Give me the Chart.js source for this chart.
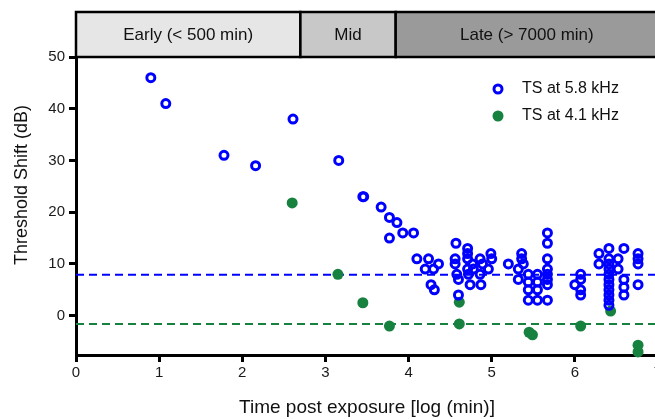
<!DOCTYPE html>
<html>
<head>
<meta charset="utf-8">
<script src="https://cdn.jsdelivr.net/npm/chart.js@4.4.1/dist/chart.umd.min.js"></script>
<style>
  html, body { margin: 0; padding: 0; overflow: hidden; background: #fff; }
  #wrap { width: 672px; height: 419px; }
</style>
</head>
<body>
<div id="wrap"><canvas id="chart" width="672" height="419"></canvas></div>
<script>
// TS at 5.8 kHz (open circles)
const highX = [0.90, 1.08, 1.78, 2.16, 2.61, 3.16, 3.45, 3.46, 3.67, 3.77, 3.86, 3.77, 3.93, 4.06,
  4.10, 4.24, 4.20, 4.30, 4.36, 4.27, 4.31,
  4.57, 4.56, 4.56, 4.58, 4.60, 4.60, 4.71, 4.71, 4.71, 4.71, 4.72, 4.74, 4.77, 4.78,
  4.86, 4.89, 4.86, 4.87, 4.99, 5.00, 4.96, 5.20,
  5.36, 5.36, 5.38, 5.32, 5.32, 5.44, 5.44, 5.44, 5.44, 5.55, 5.55, 5.55, 5.55,
  5.67, 5.67, 5.67, 5.67, 5.67, 5.67, 5.67, 5.67,
  6.07, 6.07, 6.00, 6.07, 6.07,
  6.29, 6.29, 6.41, 6.41, 6.41, 6.41, 6.41, 6.41, 6.41, 6.41, 6.41, 6.41, 6.41,
  6.52, 6.52, 6.59, 6.59, 6.59, 6.59, 6.76, 6.76, 6.76, 6.76];
const highY = [46, 41, 31, 29, 38, 30, 23, 23, 21, 19, 18, 15, 16, 16,
  11, 11, 9, 9, 10, 6, 5,
  14, 11, 10, 8, 7, 4, 13, 12, 11, 9, 8, 6, 10, 9,
  11, 10, 8, 6, 12, 11, 9, 10,
  12, 11, 10, 9, 7, 8, 6.5, 5, 3, 8, 6.5, 5, 3,
  16, 14, 11, 9, 8, 7, 6, 3,
  8, 7, 6, 5, 4,
  12, 10, 13, 11, 10, 9, 8, 7, 6, 5, 4, 3, 2,
  11, 9, 13, 7, 5.5, 4, 12, 11, 10, 6];

// TS at 4.1 kHz (filled circles)
const lowX = [2.60, 3.15, 3.45, 3.77, 4.61, 4.61, 5.45, 5.49, 6.07, 6.43, 6.76, 6.76];
const lowY = [21.8, 8.0, 2.5, -2.0, 2.6, -1.6, -3.2, -3.7, -2.0, 0.9, -5.7, -7.0];

// mean reference lines
const highMean = 7.9;
const lowMean = -1.6;

const xTicks = [0, 1, 2, 3, 4, 5, 6, 7];
const yTicks = [0, 10, 20, 30, 40, 50];

const phases = ["Early (< 500 min)", "Mid", "Late (> 7000 min)"];
const phaseEdges = [0, Math.log10(500), Math.log10(7000), 7];
const phaseColors = ["#e6e6e6", "#c8c8c8", "#9a9a9a"];

const BLUE = "#0000ff";
const GREEN = "#17813f";
const FONT = "'Liberation Sans', Arial, sans-serif";

const toPoints = (xs, ys) => xs.map((x, i) => ({ x: x, y: ys[i] }));

const decor = {
  id: "decor",
  afterDraw(chart) {
    const ctx = chart.ctx;
    const xs = chart.scales.x;
    const area = chart.chartArea;

    // phase bands above the plot
    const top = 12, bottom = area.top;
    ctx.save();
    ctx.lineWidth = 2.5;
    ctx.strokeStyle = "#000";
    ctx.textAlign = "center";
    ctx.textBaseline = "middle";
    ctx.font = "17px " + FONT;
    phases.forEach((label, i) => {
      const x0 = xs.getPixelForValue(phaseEdges[i]);
      const x1 = xs.getPixelForValue(phaseEdges[i + 1]);
      ctx.fillStyle = phaseColors[i];
      ctx.fillRect(x0, top, x1 - x0, bottom - top);
      ctx.strokeRect(x0, top, x1 - x0, bottom - top);
      ctx.fillStyle = "#111";
      ctx.fillText(label, (x0 + x1) / 2, (top + bottom) / 2 + 1);
    });

    // legend
    ctx.textAlign = "left";
    ctx.font = "16px " + FONT;
    ctx.beginPath();
    ctx.arc(498, 89, 4, 0, Math.PI * 2);
    ctx.lineWidth = 3;
    ctx.strokeStyle = BLUE;
    ctx.stroke();
    ctx.fillStyle = "#111";
    ctx.fillText("TS at 5.8 kHz", 522, 89);
    ctx.beginPath();
    ctx.arc(498, 116, 5.5, 0, Math.PI * 2);
    ctx.fillStyle = GREEN;
    ctx.fill();
    ctx.fillStyle = "#111";
    ctx.fillText("TS at 4.1 kHz", 522, 116);

    // axis titles
    ctx.textAlign = "center";
    ctx.font = "19px " + FONT;
    ctx.fillText("Time post exposure [log (min)]", (area.left + area.right) / 2, 408);
    ctx.translate(22, 185);
    ctx.rotate(-Math.PI / 2);
    ctx.font = "18px " + FONT;
    ctx.fillText("Threshold Shift (dB)", 0, 0);
    ctx.restore();
  }
};

const axisStyle = {
  grid: { drawOnChartArea: false, drawTicks: true, tickLength: 7, tickWidth: 3, tickColor: "#000" },
  border: { display: true, color: "#000", width: 3 }
};

new Chart(document.getElementById("chart"), {
  type: "scatter",
  data: {
    datasets: [
      {
        label: "TS at 5.8 kHz",
        data: toPoints(highX, highY),
        pointStyle: "circle",
        pointRadius: 4,
        pointBorderWidth: 3,
        pointBorderColor: BLUE,
        pointBackgroundColor: "rgba(0,0,0,0)",
        clip: false
      },
      {
        label: "TS at 4.1 kHz",
        data: toPoints(lowX, lowY),
        pointStyle: "circle",
        pointRadius: 5.5,
        pointBorderWidth: 0,
        pointBackgroundColor: GREEN,
        clip: false
      },
      {
        type: "line",
        label: "mean 5.8",
        data: [{ x: 0, y: highMean }, { x: 7, y: highMean }],
        borderColor: BLUE,
        borderWidth: 2,
        borderDash: [8, 5],
        pointRadius: 0
      },
      {
        type: "line",
        label: "mean 4.1",
        data: [{ x: 0, y: lowMean }, { x: 7, y: lowMean }],
        borderColor: GREEN,
        borderWidth: 2,
        borderDash: [8, 5],
        pointRadius: 0
      }
    ]
  },
  options: {
    responsive: false,
    animation: false,
    events: [],
    layout: { padding: { top: 57, right: 14, left: 0, bottom: 0 } },
    plugins: {
      legend: { display: false },
      tooltip: { enabled: false }
    },
    scales: {
      x: {
        type: "linear",
        min: 0,
        max: 7,
        afterBuildTicks: (scale) => { scale.ticks = xTicks.map(v => ({ value: v })); },
        afterFit: (scale) => { scale.height = 64; },
        ticks: { color: "#1a1a1a", font: { family: FONT, size: 15 }, padding: 2, maxRotation: 0 },
        ...axisStyle
      },
      y: {
        type: "linear",
        min: -7.6,
        max: 50,
        afterBuildTicks: (scale) => { scale.ticks = yTicks.map(v => ({ value: v })); },
        afterFit: (scale) => { scale.width = 76; },
        ticks: { color: "#1a1a1a", font: { family: FONT, size: 15 }, padding: 4 },
        ...axisStyle
      }
    }
  },
  plugins: [decor]
});
</script>
</body>
</html>
